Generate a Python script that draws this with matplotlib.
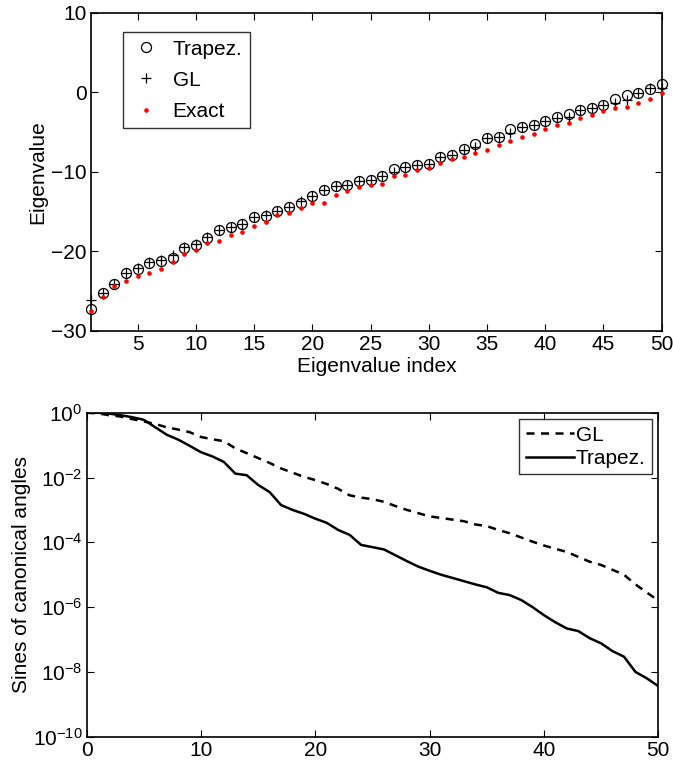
import numpy as np
import matplotlib
matplotlib.use("Agg")
import matplotlib.pyplot as plt
from matplotlib.ticker import NullLocator, FixedLocator

plt.rcParams['font.family'] = ['Liberation Sans', 'DejaVu Sans']
plt.rcParams['mathtext.fontset'] = 'custom'
plt.rcParams['mathtext.rm'] = 'Liberation Sans'
plt.rcParams['mathtext.it'] = 'Liberation Sans:italic'

# ---------------- Top panel data ----------------
eig_index = list(range(1, 51))
trapez_eig = [-27.3, -25.3, -24.1, -22.8, -22.2, -21.5, -21.2, -20.8, -19.6, -19.2,
              -18.4, -17.3, -17.0, -16.6, -15.7, -15.6, -15.0, -14.5, -14.0, -13.0,
              -12.3, -11.8, -11.7, -11.2, -11.1, -10.6, -9.6, -9.4, -9.1, -9.0,
              -8.2, -7.9, -7.1, -6.5, -5.7, -5.6, -4.6, -4.4, -4.1, -3.6,
              -3.1, -2.8, -2.3, -2.0, -1.6, -0.9, -0.4, -0.1, 0.4, 1.0]
gl_eig = [-26.2, -25.2, -24.1, -22.8, -22.1, -21.4, -21.1, -20.5, -19.5, -19.1,
          -18.2, -17.3, -17.0, -16.6, -15.7, -15.5, -15.0, -14.5, -13.7, -13.0,
          -12.3, -11.8, -11.7, -11.2, -11.1, -10.6, -10.0, -9.4, -9.1, -9.0,
          -8.2, -7.9, -7.3, -6.9, -5.7, -5.6, -5.1, -4.4, -4.1, -3.6,
          -3.3, -3.1, -2.3, -2.0, -1.6, -1.3, -1.0, -0.1, 0.5, 0.5]
exact_eig = [-27.5, -25.7, -24.4, -23.7, -23.1, -22.7, -22.2, -21.4, -20.4, -19.8,
             -19.0, -18.7, -17.9, -17.6, -16.8, -16.3, -15.4, -15.2, -14.6, -14.0,
             -13.9, -12.9, -12.4, -11.9, -11.7, -11.5, -10.6, -10.4, -9.8, -9.5,
             -8.9, -8.4, -8.1, -7.7, -7.3, -6.7, -6.1, -5.6, -5.2, -4.6,
             -4.1, -3.9, -3.3, -2.9, -2.4, -2.0, -1.8, -1.4, -0.8, -0.1]

# ---------------- Bottom panel data (log10 of sines) ----------------
angle_index = list(range(0, 51))
gl_log10 = [0, -0.02, -0.08, -0.12, -0.2, -0.27, -0.35, -0.45, -0.52, -0.6,
            -0.75, -0.82, -0.88, -1.1, -1.25, -1.4, -1.55, -1.72, -1.85, -1.98,
            -2.08, -2.2, -2.35, -2.55, -2.62, -2.67, -2.75, -2.88, -3.0, -3.1,
            -3.2, -3.25, -3.3, -3.35, -3.45, -3.5, -3.62, -3.72, -3.85, -3.98,
            -4.1, -4.2, -4.3, -4.45, -4.6, -4.7, -4.85, -5.0, -5.3, -5.55, -5.8]
trapez_log10 = [0, 0, -0.03, -0.08, -0.14, -0.22, -0.45, -0.68, -0.83, -1.02,
                -1.22, -1.35, -1.52, -1.88, -1.93, -2.23, -2.45, -2.85, -3.0, -3.12,
                -3.27, -3.4, -3.62, -3.77, -4.08, -4.15, -4.22, -4.4, -4.58, -4.75,
                -4.88, -5.0, -5.1, -5.2, -5.3, -5.39, -5.56, -5.63, -5.78, -6.0,
                -6.25, -6.47, -6.66, -6.74, -6.96, -7.12, -7.36, -7.53, -8.0, -8.2, -8.44]

FS = 15

fig = plt.figure(figsize=(6.73, 7.65), dpi=100)

# ---------------- Top axes ----------------
ax1 = fig.add_axes([91/673, 1 - 330.7/765, 570.7/673, 318/765])
ax1.plot(eig_index, trapez_eig, linestyle='none', marker='o', mfc='none', mec='black',
         ms=7.2, mew=0.9, label='Trapez.', clip_on=False, zorder=3)
ax1.plot(eig_index, gl_eig, linestyle='none', marker='+', color='black',
         ms=7.2, mew=0.9, label='GL', clip_on=False, zorder=3)
ax1.plot(eig_index, exact_eig, linestyle='none', marker='o', color='red', mec='red',
         ms=2.3, label='Exact', clip_on=False, zorder=4)
ax1.set_xlim(1, 50)
ax1.set_ylim(-30, 10)
ax1.set_xticks([5, 10, 15, 20, 25, 30, 35, 40, 45, 50])
ax1.set_yticks([-30, -20, -10, 0, 10])
ax1.set_yticklabels(['\u221230', '\u221220', '\u221210', '0', '10'])
ax1.set_xlabel('Eigenvalue index', fontsize=FS, labelpad=2)
ax1.set_ylabel('Eigenvalue', fontsize=FS, labelpad=3)
leg1 = ax1.legend(loc='upper left', bbox_to_anchor=(0.0555, 0.938), fontsize=FS,
                  frameon=True, fancybox=False, edgecolor='black', handlelength=1.5,
                  handletextpad=0.55, borderpad=0.35, labelspacing=0.58,
                  borderaxespad=0)
leg1.get_frame().set_linewidth(1.0)

# ---------------- Bottom axes ----------------
ax2 = fig.add_axes([86.7/673, 1 - 736.7/765, 571.6/673, 324/765])
gl_vals = [10.0 ** v for v in gl_log10]
tr_vals = [10.0 ** v for v in trapez_log10]
ax2.semilogy(angle_index, gl_vals, color='black', linestyle=(0, (3.2, 2.6)), lw=1.8, label='GL')
ax2.semilogy(angle_index, tr_vals, color='black', linestyle='-', lw=1.8, label='Trapez.')
ax2.set_xlim(0, 50)
ax2.set_ylim(1e-10, 1e0)
ax2.set_xticks([0, 10, 20, 30, 40, 50])
ax2.yaxis.set_major_locator(FixedLocator([1e-10, 1e-8, 1e-6, 1e-4, 1e-2, 1e0]))
ax2.yaxis.set_minor_locator(NullLocator())
ax2.set_ylabel('Sines of canonical angles', fontsize=FS, labelpad=1)
leg2 = ax2.legend(loc='upper right', bbox_to_anchor=(0.9885, 0.9796), fontsize=FS,
                  frameon=True, fancybox=False, edgecolor='black', handlelength=2.3,
                  handletextpad=0.1, borderpad=0.3, labelspacing=0.22,
                  borderaxespad=0)
leg2.get_frame().set_linewidth(1.0)

for ax in (ax1, ax2):
    ax.tick_params(direction='in', top=True, right=True, labelsize=FS, length=5,
                   width=0.8, pad=3)
    for s in ax.spines.values():
        s.set_linewidth(1.2)

fig.savefig('out.png', dpi=100)
